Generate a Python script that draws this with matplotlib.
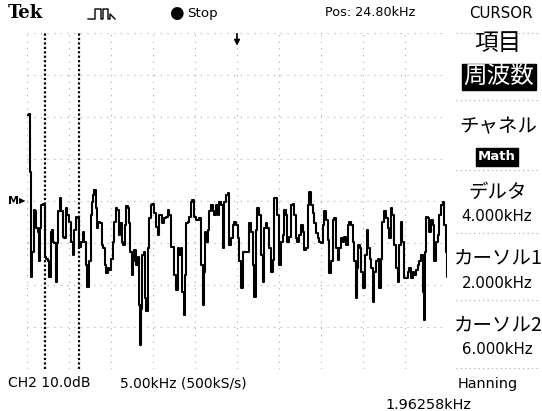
import matplotlib
matplotlib.use('Agg')
import matplotlib.pyplot as plt
from matplotlib.lines import Line2D
from matplotlib import font_manager as fm

# ---------------- data ----------------
freq_khz = [-0.04, 0.04, 0.16, 0.24, 0.28, 0.36, 0.52, 0.67, 0.87, 0.99,
            1.15, 1.31, 1.47, 1.55, 1.75, 1.94, 2.06, 2.18, 2.34, 2.54,
            2.66, 2.82, 2.94, 3.13, 3.33, 3.45, 3.61, 3.77, 3.93, 4.13,
            4.33, 4.52, 4.72, 4.92, 5.12, 5.32, 5.52, 5.71, 5.91, 6.11,
            6.31, 6.51, 6.71, 6.90, 7.10, 7.30, 7.42, 7.58, 7.74, 7.90,
            8.02, 8.17, 8.37, 8.57, 8.77, 8.97, 9.17, 9.33, 9.48, 9.68,
            9.88, 10.08, 10.28, 10.44, 10.60, 10.79, 10.95, 11.15, 11.31, 11.51,
            11.67, 11.87, 12.06, 12.18, 12.34, 12.50, 12.66, 12.86, 13.06, 13.17,
            13.29, 13.45, 13.61, 13.77, 13.93, 14.09, 14.25, 14.44, 14.64, 14.84,
            15.04, 15.24, 15.44, 15.63, 15.83, 16.03, 16.23, 16.43, 16.63, 16.83,
            17.02, 17.22, 17.42, 17.62, 17.82, 18.02, 18.21, 18.41, 18.53, 18.69,
            18.81, 19.01, 19.21, 19.40, 19.60, 19.80, 20.00, 20.20, 20.40, 20.60,
            20.79, 20.91, 21.07, 21.23, 21.39, 21.59, 21.79, 21.98, 22.18, 22.38,
            22.58, 22.78, 22.98, 23.17, 23.37, 23.57, 23.77, 23.97, 24.17, 24.37,
            24.56, 24.76, 24.96, 25.16, 25.36, 25.56, 25.75, 25.95, 26.15, 26.35,
            26.55, 26.75, 26.94, 27.14, 27.34, 27.54, 27.74, 27.94, 28.13, 28.33,
            28.53, 28.73, 28.93, 29.13, 29.33, 29.52, 29.72, 29.92, 30.12, 30.32,
            30.52, 30.71, 30.91, 31.11, 31.31, 31.51, 31.71, 31.90, 32.10, 32.30,
            32.50, 32.70, 32.90, 33.10, 33.29, 33.49, 33.69, 33.89, 34.09, 34.29,
            34.48, 34.68, 34.88, 35.08, 35.28, 35.48, 35.67, 35.87, 36.07, 36.27,
            36.47, 36.67, 36.87, 37.06, 37.26, 37.46, 37.66, 37.86, 38.06, 38.25,
            38.45, 38.65, 38.85, 38.97, 39.13, 39.33, 39.52, 39.72, 39.92, 40.12,
            40.32, 40.52, 40.71, 40.91, 41.07, 41.23, 41.43, 41.63, 41.83, 42.02,
            42.22, 42.42, 42.62, 42.82, 43.02, 43.21, 43.41, 43.61, 43.81, 44.01,
            44.21, 44.40, 44.60, 44.80, 45.00, 45.20, 45.40, 45.60, 45.79, 45.99,
            46.19, 46.39, 46.59, 46.79, 46.98, 47.10, 47.26, 47.38, 47.58, 47.78,
            47.98, 48.17, 48.37, 48.57, 48.77, 48.97, 49.17, 49.37, 49.56, 49.76,
            49.88]

level_db = [20.5, 20.6, 18.1, 7.0, -4.9, -18.0, -12.1, -2.1, -2.5, -6.5,
            -7.3, -14.4, -6.5, -1.0, -0.6, -1.0, -13.3, -13.7, -14.4, -18.0,
            -7.3, -6.9, -9.7, -10.1, -19.2, -10.1, -2.5, 0.6, -2.5, -8.5,
            -8.9, -1.7, -3.3, -4.9, -9.7, -12.9, -6.9, -3.7, -4.1, -10.9,
            -9.7, -7.3, -9.7, -15.2, -20.4, -14.4, -3.3, -0.2, 1.4, 2.6,
            -1.7, -6.5, -4.9, -5.3, -10.5, -11.3, -15.2, -17.2, -16.0, -16.4,
            -13.7, -9.7, -4.9, -1.7, -2.1, -8.1, -5.3, -9.7, -10.5, -5.7,
            -1.3, -1.7, -5.3, -12.1, -17.6, -14.4, -11.7, -15.2, -13.3, -24.8,
            -34.3, -25.6, -12.9, -12.1, -23.2, -26.3, -11.3, -4.1, -1.0, -0.6,
            -2.9, -6.1, -8.1, -3.3, -3.3, -5.3, -4.1, -3.7, -2.1, -3.3,
            -10.9, -10.9, -17.6, -21.2, -11.3, -12.9, -11.3, -21.6, -27.1, -17.6,
            -5.3, -4.9, -3.7, -0.2, 0.2, -3.7, -4.5, -4.5, -4.1, -15.2,
            -24.8, -16.8, -7.3, -9.7, -6.9, -2.5, -1.0, -2.5, -3.3, -1.0,
            -3.3, -0.2, -1.0, -11.3, -0.2, 1.4, 1.8, -10.5, -8.9, -5.7,
            -4.9, -5.7, -8.9, -14.4, -20.8, -12.1, -12.1, -12.1, -12.1, -5.3,
            -7.3, -15.2, -22.8, -6.9, -1.7, -3.3, -12.9, -19.2, -6.5, -5.3,
            -6.5, -11.3, -16.8, -14.0, 0.6, 0.6, -3.3, -15.2, -9.7, -8.1,
            -2.1, -3.3, -9.7, -8.5, -1.0, -0.6, -3.3, -8.9, -9.7, -8.1,
            -5.7, -7.3, -11.7, -11.3, -1.0, 2.1, -1.0, -2.9, -5.3, -7.7,
            -8.9, -9.7, -10.1, -5.7, -2.5, -4.5, -9.3, -17.2, -14.4, -4.5,
            -4.1, -11.3, -14.0, -11.3, -8.9, -9.7, -8.5, -10.5, -5.7, -4.9,
            -5.7, -9.7, -14.4, -23.2, -16.0, -10.5, -11.3, -16.8, -20.8, -12.9,
            -6.9, -11.3, -13.7, -16.0, -24.0, -16.8, -14.4, -13.7, -20.8, -13.7,
            -4.9, -2.5, -4.1, -6.5, -8.9, -1.7, -3.3, -10.5, -16.0, -19.2,
            -10.5, -4.9, -9.7, -18.4, -18.4, -16.8, -16.0, -18.4, -16.8, -17.6,
            -16.4, -15.2, -14.4, -12.9, -21.6, -28.3, -12.1, -3.7, -4.1, -7.3,
            -4.5, -5.7, -14.4, -9.7, -8.1, -3.3, -1.0, -0.2, -5.7, -12.1,
            -18.0]

cursor_khz = [2.0, 6.0]
center_khz = 24.80
khz_per_div = 5.0
db_per_div = 10.0

header_items = ["Tek", "Stop", "Pos: 24.80kHz", "CURSOR"]
menu_items = ["項目", "周波数", "チャネル", "Math", "デルタ", "4.000kHz",
              "カーソル1", "2.000kHz", "カーソル2", "6.000kHz", "Hanning"]
footer_items = ["CH2 10.0dB", "5.00kHz (500kS/s)", "1.96258kHz"]

# ---------------- fonts ----------------
names = {f.name for f in fm.fontManager.ttflist}
narrow = 'Liberation Sans Narrow' if 'Liberation Sans Narrow' in names else 'DejaVu Sans'
nscale = 1.0 if narrow == 'Liberation Sans Narrow' else 0.8
JP = ['Noto Sans CJK JP', 'DejaVu Sans']

W, H = 542, 411
fig = plt.figure(figsize=(W / 100, H / 100), dpi=100)
fig.patch.set_facecolor('white')


def px(x, y):
    return x / W, 1 - y / H


def put(x, y, s, size, family=None, ha='left', **kw):
    fam = family if family is not None else [narrow, 'DejaVu Sans']
    fig.text(*px(x, y), s, fontsize=size, family=fam, ha=ha, va='center', **kw)


# ---------------- graticule / trace ----------------
ax = fig.add_axes([27 / W, 1 - 369 / H, 420 / W, 336 / H])
xmin = center_khz - 5 * khz_per_div
xmax = center_khz + 5 * khz_per_div
ax.set_xlim(xmin, xmax)
ax.set_ylim(-4 * db_per_div, 4 * db_per_div)
for s in ax.spines.values():
    s.set_visible(False)
ax.set_xticks([xmin + i * khz_per_div for i in range(11)])
ax.set_yticks([-4 * db_per_div + i * db_per_div for i in range(9)])
ax.tick_params(length=0, labelbottom=False, labelleft=False)
ax.grid(True, color='#a8a8a8', lw=0.8, ls=(0, (1, 5)))
ax.set_facecolor('white')

for c in cursor_khz:
    ax.axvline(c, color='black', lw=1.6, ls=(0, (1, 1)), zorder=3)

ax.plot(freq_khz, level_db, color='black', lw=1.5, zorder=4,
        drawstyle='steps-mid')

# trigger / center marker and reference marker
ax.annotate('', xy=(center_khz, 36.3), xytext=(center_khz, 40.5),
            arrowprops=dict(arrowstyle='-|>', color='black', lw=1.2,
                            mutation_scale=8), annotation_clip=False)
put(8, 201, 'M', 8, weight='bold')
fig.text(*px(22, 201), '▶', fontsize=6, family='DejaVu Sans', ha='center', va='center')

# ---------------- header ----------------
put(8, 13, header_items[0], 13, family='DejaVu Serif', weight='bold')
pulse_x = [88, 95, 95, 101, 101, 103, 103, 108, 108, 110, 110, 115]
pulse_y = [19, 19, 9, 9, 19, 19, 9, 9, 19, 19, 14, 19]
fig.add_artist(Line2D([p / W for p in pulse_x], [1 - p / H for p in pulse_y],
                      color='black', lw=1.0))
fig.text(*px(176, 13), '●', fontsize=12, family='DejaVu Sans', ha='center', va='center')
put(187, 13, header_items[1], 12 * nscale)
put(325, 13, header_items[2], 11.5 * nscale)
put(501, 13, header_items[3], 13.5 * nscale, ha='center')

# ---------------- right menu ----------------
put(498, 43, menu_items[0], 17, family=JP, ha='center')
fig.text(*px(499, 77), menu_items[1], fontsize=17, family=JP, ha='center', va='center',
         color='white', bbox=dict(boxstyle='square,pad=0.08', fc='black', ec='black'))
put(498, 127, menu_items[2], 14, family=JP, ha='center')
fig.text(*px(497, 157), menu_items[3], fontsize=9.5, family='DejaVu Sans', weight='bold',
         ha='center', va='center', color='white',
         bbox=dict(boxstyle='square,pad=0.18', fc='black', ec='black'))
put(498, 192, menu_items[4], 14, family=JP, ha='center')
put(497, 216, menu_items[5], 13.5 * nscale, ha='center')
put(498, 258, menu_items[6], 14, family=JP, ha='center')
put(497, 283, menu_items[7], 13.5 * nscale, ha='center')
put(498, 325, menu_items[8], 14, family=JP, ha='center')
put(497, 350, menu_items[9], 13.5 * nscale, ha='center')
put(488, 384, menu_items[10], 13 * nscale, ha='center')

for yy in [33, 100, 170, 233, 300, 368]:
    fig.add_artist(Line2D([456 / W, 540 / W], [1 - yy / H, 1 - yy / H],
                          color='#a8a8a8', lw=0.8, ls=(0, (1, 3))))

# ---------------- footer ----------------
put(8, 383, footer_items[0], 12.5 * nscale)
put(120, 383, footer_items[1], 12.5 * nscale)
put(428, 405, footer_items[2], 13 * nscale, ha='center')

fig.savefig('out.png', dpi=100, facecolor='white')
